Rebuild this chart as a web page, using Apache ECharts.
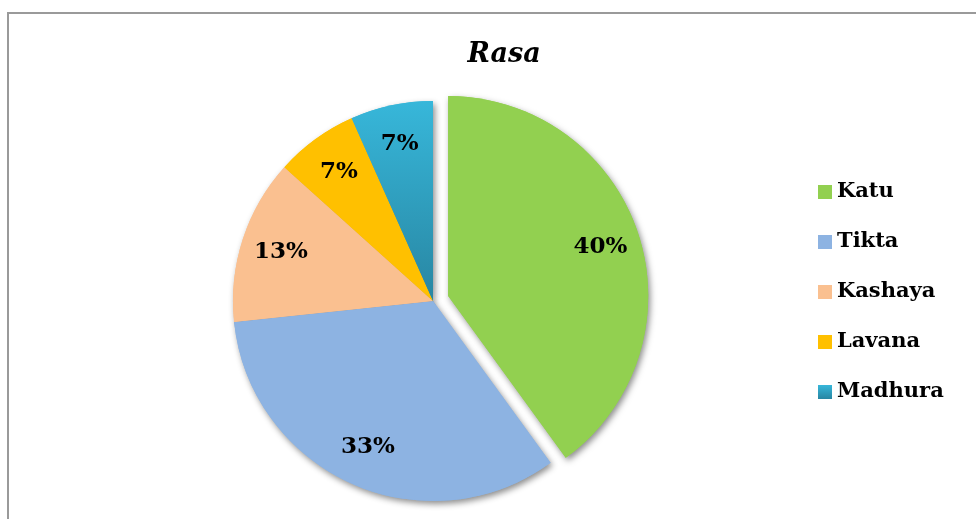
<!DOCTYPE html>
<html>
<head>
<meta charset="utf-8">
<title>Rasa</title>
<script src="https://cdn.jsdelivr.net/npm/echarts@6/dist/echarts.min.js"></script>
<style>
  html, body { margin: 0; padding: 0; background: #fff; }
  #chart { width: 976px; height: 519px; }
</style>
</head>
<body>
<div id="chart"></div>
<script>
// counts per rasa (shown as percentages)
const categories = ['Katu', 'Tikta', 'Kashaya', 'Lavana', 'Madhura'];
const counts = [6, 5, 2, 1, 1];
const colors = [
    '#92D050',
    '#8DB3E2',
    '#FAC090',
    '#FFC000',
    new echarts.graphic.LinearGradient(0, 0, 0, 1, [
        { offset: 0, color: '#37B7DA' },
        { offset: 1, color: '#2886A2' }
    ])
];
const exploded = 'Katu';

const serif = '"DejaVu Serif", "Liberation Serif", serif';
const center = [433, 301];

function pieData(){
    return categories.map((name, i) => {
        return {
            name: name,
            value: counts[i],
            selected: name === exploded,
            itemStyle: { color: colors[i] }
        };
    });
}

let option = {
    animation: false,
    title: {
        text: 'Rasa',
        left: 499,
        top: 36,
        textAlign: 'center',
        textStyle: {
            fontFamily: serif,
            fontSize: 27,
            fontWeight: 'bold',
            fontStyle: 'italic',
            color: '#000'
        }
    },
    legend: {
        orient: 'vertical',
        left: 813,
        top: 176,
        icon: 'rect',
        itemWidth: 14,
        itemHeight: 14,
        itemGap: 28,
        selectedMode: false,
        data: categories,
        textStyle: {
            fontFamily: serif,
            fontSize: 21,
            fontWeight: 'bold',
            color: '#000',
            lineHeight: 22
        }
    },
    graphic: [{
        type: 'rect',
        silent: true,
        shape: { x: 8, y: 13, width: 1200, height: 800 },
        style: { fill: 'none', stroke: '#9a9a9a', lineWidth: 2 }
    }],
    series: [
        // shadow layer underneath
        {
            type: 'pie',
            center: center,
            radius: [0, 200],
            startAngle: 90,
            clockwise: true,
            silent: true,
            selectedMode: 'single',
            selectedOffset: 16,
            label: { show: false },
            labelLine: { show: false },
            itemStyle: {
                shadowBlur: 6,
                shadowOffsetX: 2,
                shadowOffsetY: 3,
                shadowColor: 'rgba(0,0,0,0.45)'
            },
            data: pieData()
        },
        // main slices
        {
            type: 'pie',
            center: center,
            radius: [0, 200],
            startAngle: 90,
            clockwise: true,
            silent: true,
            selectedMode: 'single',
            selectedOffset: 16,
            label: { show: false },
            labelLine: { show: false },
            data: pieData()
        },
        // transparent ring that carries the labels
        {
            type: 'pie',
            center: center,
            radius: [114, 200],
            startAngle: 90,
            clockwise: true,
            silent: true,
            percentPrecision: 0,
            selectedMode: 'single',
            selectedOffset: 16,
            itemStyle: { color: 'rgba(0,0,0,0)' },
            labelLine: { show: false },
            label: {
                show: true,
                position: 'inside',
                formatter: '{d}%',
                fontFamily: serif,
                fontSize: 23,
                fontWeight: 'bold',
                color: '#000'
            },
            data: categories.map((name, i) => {
                return {
                    name: name,
                    value: counts[i],
                    selected: name === exploded,
                    itemStyle: { color: 'rgba(0,0,0,0)' }
                };
            })
        }
    ]
};

echarts.init(document.getElementById('chart')).setOption(option);
</script>
</body>
</html>
